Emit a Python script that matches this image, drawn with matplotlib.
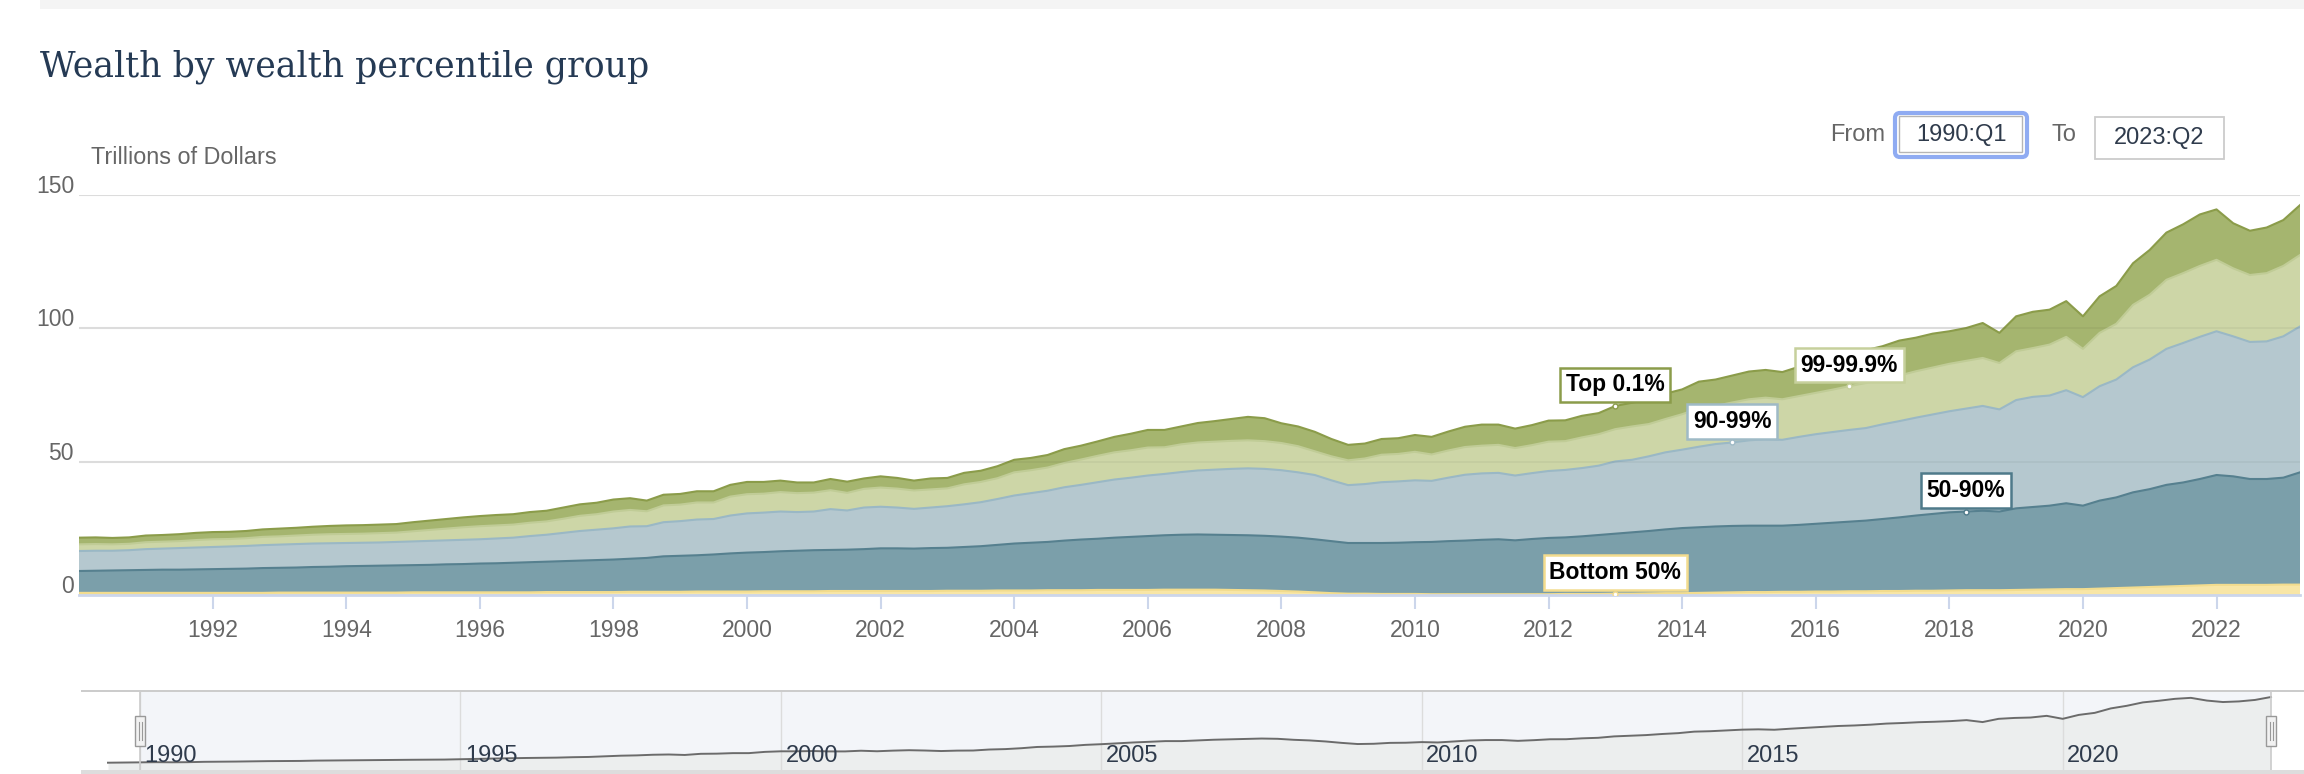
import numpy as np
import pandas as pd
import matplotlib
matplotlib.use('Agg')
import matplotlib.pyplot as plt
from matplotlib.patches import Rectangle, FancyBboxPatch
from matplotlib.lines import Line2D
from matplotlib.transforms import blended_transform_factory

plt.rcParams['font.family'] = ['Liberation Sans', 'DejaVu Sans']

W, H = 2304, 774

# quarterly data, 1989Q3 .. 2023Q2, trillions of dollars
quarters = pd.period_range('1989Q3', '2023Q2', freq='Q')

top01 = [2.4, 2.4,
         2.5, 2.5, 2.4, 2.4,  2.5, 2.5, 2.6, 2.7,  2.7, 2.7, 2.7, 2.8,  2.9, 2.9, 3.0, 3.1,
         3.2, 3.2, 3.2, 3.2,  3.4, 3.5, 3.6, 3.7,  3.8, 3.9, 3.9, 4.0,  4.0, 4.2, 4.3, 4.3,
         4.5, 4.4, 4.0, 4.0,  4.0, 4.2, 4.2, 4.4,  4.6, 4.4, 4.3, 4.0,  3.8, 4.2, 4.2, 3.9,
         4.2, 4.0, 3.7, 4.1,  3.9, 4.3, 4.2, 4.5,  4.7, 4.6, 4.7, 5.2,  5.2, 5.4, 5.8, 6.2,
         6.6, 6.5, 6.7, 7.3,  7.7, 8.2, 8.8, 8.6,  7.4, 7.4, 7.3, 6.5,  5.8, 5.6, 5.9, 5.9,
         6.3, 6.6, 7.1, 7.6,  7.9, 7.6, 7.3, 7.5,  7.9, 7.8, 8.1, 7.9,  8.7, 8.9, 9.3, 9.5,
         9.3, 10.0, 9.9, 10.1,  10.4, 10.4, 10.2, 11.0,  11.5, 12.2, 12.5, 12.3,
         12.5, 13.1, 12.6, 12.7,  12.2, 12.3, 13.1, 11.3,  13.1, 13.6, 13.1, 13.4,
         12.2, 13.7, 14.2, 15.6,  16.8, 17.7, 18.3, 19.3,  18.9, 16.9, 16.6, 17.1,
         17.2, 18.7]

p99_999 = [2.4, 2.4,
           2.5, 2.5, 2.4, 2.4,  2.6, 2.6, 2.6, 2.8,  2.9, 2.8, 2.9, 3.1,  3.1, 3.2, 3.3, 3.4,
           3.4, 3.4, 3.5, 3.5,  3.8, 4.1, 4.4, 4.7,  4.9, 4.9, 4.9, 5.0,  5.0, 5.3, 5.7, 5.8,
           6.3, 6.2, 5.6, 6.3,  6.2, 6.4, 6.2, 7.1,  7.2, 7.1, 7.3, 7.1,  7.1, 7.1, 6.6, 7.0,
           7.2, 7.1, 6.9, 6.8,  6.7, 7.5, 7.6, 7.8,  8.7, 8.6, 8.7, 9.1,  9.5, 9.9, 10.2, 10.3,
           10.5, 10.0, 10.4, 10.5,  10.5, 10.5, 10.5, 10.4,  10.2, 9.8, 8.9, 9.0,
           9.3, 9.6, 10.3, 10.3,  10.7, 9.9, 10.2, 10.4,  10.4, 10.5, 10.3, 10.5,
           11.0, 10.8, 11.5, 11.8,  12.1, 12.5, 12.1, 12.5,  13.3, 14.4, 14.3, 15.0,
           15.4, 15.6, 15.2, 15.3,  15.5, 15.9, 16.4, 16.9,  16.8, 17.1, 17.4, 17.6,
           17.8, 17.9, 18.0, 17.4,  18.3, 18.3, 19.1, 20.0,  18.1, 20.0, 20.9, 23.4,
           24.3, 25.9, 26.2, 26.6,  26.8, 25.5, 25.1, 25.6,  26.4, 26.8]

p90_99 = [7.2, 7.4,
          7.5, 7.5, 7.4, 7.5,  7.8, 7.9, 8.1, 8.2,  8.3, 8.4, 8.5, 8.6,  8.7, 8.8, 8.8, 8.8,
          8.7, 8.7, 8.7, 8.8,  8.9, 9.0, 9.0, 9.1,  9.1, 9.3, 9.4, 9.8,  10.1, 10.6, 11.1, 11.4,
          11.7, 12.1, 11.9, 12.8,  13.0, 13.4, 13.3, 14.2,  14.7, 14.8, 14.9, 14.5,
          14.5, 15.3, 14.7, 15.6,  15.6, 15.3, 14.9, 15.2,  15.6, 16.0, 16.5, 17.2,
          18.0, 18.6, 19.2, 20.0,  20.5, 21.2, 21.8, 22.2,  22.7, 23.0, 23.5, 24.0,
          24.4, 24.8, 25.1, 25.1,  24.9, 24.5, 24.1, 22.8,  21.7, 22.1, 22.8, 23.0,
          23.2, 22.9, 23.8, 24.7,  24.9, 24.9, 24.3, 24.7,  25.1, 25.3, 25.6, 26.0,
          27.1, 27.2, 28.0, 28.9,  29.4, 30.2, 30.9, 31.3,  32.0, 32.4, 32.2, 33.0,
          33.6, 34.0, 34.4, 34.7,  35.5, 36.1, 36.7, 37.3,  37.9, 38.6, 39.3, 38.3,
          40.6, 41.3, 41.3, 42.4,  40.7, 42.9, 44.2, 46.9,  48.6, 51.0, 52.3, 53.3,
          53.9, 52.5, 51.4, 51.6,  53.0, 54.7]

p50_90 = [7.8, 8.0,
          8.2, 8.3, 8.4, 8.5,  8.6, 8.7, 8.7, 8.8,  8.9, 9.0, 9.1, 9.3,  9.3, 9.4, 9.6, 9.7,
          9.9, 10.0, 10.1, 10.2,  10.2, 10.3, 10.5, 10.6,  10.8, 10.9, 11.1, 11.3,
          11.4, 11.6, 11.8, 12.0,  12.2, 12.4, 12.7, 13.3,  13.5, 13.6, 13.9, 14.3,
          14.6, 14.7, 15.0, 15.2,  15.4, 15.4, 15.5, 15.7,  16.0, 16.0, 15.9, 16.1,
          16.1, 16.4, 16.7, 17.1,  17.6, 17.9, 18.1, 18.6,  19.0, 19.2, 19.6, 19.9,
          20.2, 20.4, 20.6, 20.7,  20.6, 20.6, 20.6, 20.5,  20.4, 20.2, 19.9, 19.5,
          19.0, 19.0, 19.1, 19.2,  19.4, 19.6, 19.9, 20.1,  20.4, 20.6, 20.2, 20.7,
          21.1, 21.2, 21.6, 22.1,  22.5, 23.0, 23.4, 23.9,  24.4, 24.6, 24.8, 24.9,
          24.9, 24.9, 24.8, 25.1,  25.4, 25.8, 26.1, 26.5,  27.0, 27.6, 28.2, 28.8,
          29.3, 29.5, 29.8, 29.5,  30.6, 31.0, 31.4, 32.2,  31.3, 33.0, 34.0, 35.7,
          36.7, 38.1, 38.8, 39.9,  41.2, 40.7, 39.7, 39.7,  40.1, 42.1]

bottom50 = [0.8, 0.8,
            0.8, 0.8, 0.8, 0.8,  0.8, 0.8, 0.8, 0.8,  0.8, 0.8, 0.8, 0.8,  0.9, 0.9, 0.9, 0.9,
            0.9, 0.9, 0.9, 0.9,  1.0, 1.0, 1.0, 1.0,  1.0, 1.0, 1.0, 1.0,  1.1, 1.1, 1.1, 1.1,
            1.1, 1.2, 1.2, 1.2,  1.2, 1.3, 1.3, 1.3,  1.3, 1.4, 1.4, 1.4,  1.4, 1.5, 1.5, 1.5,
            1.5, 1.5, 1.5, 1.5,  1.6, 1.6, 1.6, 1.7,  1.7, 1.7, 1.8, 1.8,  1.8, 1.9, 1.9, 1.9,
            1.9, 2.0, 2.0, 2.0,  2.0, 1.9, 1.8, 1.7,  1.5, 1.3, 1.0, 0.7,  0.5, 0.5, 0.4, 0.4,
            0.4, 0.3, 0.3, 0.3,  0.3, 0.3, 0.3, 0.3,  0.3, 0.4, 0.4, 0.4,  0.5, 0.5, 0.6, 0.7,
            0.7, 0.8, 0.9, 1.0,  1.1, 1.1, 1.2, 1.2,  1.3, 1.3, 1.4, 1.4,  1.5, 1.5, 1.6, 1.6,
            1.7, 1.8, 1.8, 1.8,  1.9, 2.0, 2.1, 2.2,  2.2, 2.4, 2.6, 2.8,  3.0, 3.2, 3.4, 3.6,
            3.8, 3.8, 3.8, 3.8,  3.9, 3.9]

groups = ['Bottom 50%', '50-90%', '90-99%', '99-99.9%', 'Top 0.1%']
fills = ['#f8e6a6', '#7b9faa', '#b5c8cf', '#cdd6a7', '#a5b56f']
edges = ['#f2dc8e', '#56808f', '#9ab8c5', '#c0cc96', '#8b9c4a']
label_at = {'Top 0.1%': '2013Q1', '99-99.9%': '2016Q3', '90-99%': '2014Q4',
            '50-90%': '2018Q2', 'Bottom 50%': '2013Q1'}
box_edge = {'Top 0.1%': '#8b9c4a', '99-99.9%': '#c6d09c', '90-99%': '#9fbac6',
            '50-90%': '#4f7a8a', 'Bottom 50%': '#f3dc8e'}

x = np.array(quarters.year + (quarters.quarter - 1) / 4.0)
values = np.vstack([bottom50, p50_90, p90_99, p99_999, top01])
cum = np.cumsum(values, axis=0)
total = cum[-1]
qnames = [str(q) for q in quarters]

fig = plt.figure(figsize=(W / 100, H / 100), dpi=100)


def rect(px, py, w, h):
    return [px / W, 1 - (py + h) / H, w / W, h / H]


# header
fig.add_artist(Rectangle((40 / W, 1 - 9 / H), 2264 / W, 9 / H, transform=fig.transFigure,
                         color='#f4f4f4', lw=0))
fig.text(40 / W, 1 - 76 / H, 'Wealth by wealth percentile group', family='DejaVu Serif',
         fontsize=25, color='#253a54', va='baseline')
fig.text(91 / W, 1 - 157 / H, 'Trillions of Dollars', fontsize=16.8, color='#666666', va='center')

# from / to inputs
def inbox(x0, y0, x1, y1, **kw):
    fig.add_artist(FancyBboxPatch((x0 / W, 1 - y1 / H), (x1 - x0) / W, (y1 - y0) / H,
                                  boxstyle=f'round,pad=0,rounding_size={5 / W}',
                                  mutation_aspect=W / H, transform=fig.transFigure, **kw))

fig.text(1830 / W, 1 - 135 / H, 'From', fontsize=17, color='#666666', va='center')
inbox(1895, 113, 2027, 157, fc='white', ec='#8fabf2', lw=3)
fig.add_artist(Rectangle((1899 / W, 1 - 152 / H), 123 / W, 36 / H, transform=fig.transFigure,
                         fc='white', ec='#b5b5b5', lw=1))
fig.text(1961 / W, 1 - 135 / H, '1990:Q1', fontsize=17, color='#2f3b4c', ha='center', va='center')
fig.text(2052 / W, 1 - 135 / H, 'To', fontsize=17, color='#666666', va='center')
fig.add_artist(Rectangle((2095 / W, 1 - 159 / H), 129 / W, 42 / H, transform=fig.transFigure,
                         fc='white', ec='#cccccc', lw=1.3))
fig.text(2159 / W, 1 - 138 / H, '2023:Q2', fontsize=17, color='#2f3b4c', ha='center', va='center')

# main chart
ax = fig.add_axes(rect(79, 195, 2221, 400))
ax.stackplot(x, values, colors=fills, lw=0, zorder=2)
for row, c in zip(cum, edges):
    ax.plot(x, row, color=c, lw=1.5, zorder=3)
ax.set_xlim(1990, 2023.25)
ax.set_ylim(0, 150)
for v in (50, 100, 150):
    ax.axhline(v, color='#e6e6e6', lw=1.5, zorder=1)
    ax.axhline(v, color='black', alpha=0.04, lw=1.5, zorder=4)
ax.axhline(0, color='#ccd6eb', lw=2, zorder=5, clip_on=False)
for s in ax.spines.values():
    s.set_visible(False)
ax.set_xticks(range(1992, 2023, 2))
ax.tick_params(axis='x', length=10, width=1.5, color='#ccd6eb', labelsize=16.5,
               labelcolor='#666666', pad=7)
ax.set_yticks([])
ax.patch.set_alpha(0)

tr = blended_transform_factory(fig.transFigure, ax.transData)
for v in (0, 50, 100, 150):
    ax.text(74 / W, v + 0.8, str(v), transform=tr, ha='right', va='baseline',
            fontsize=16.5, color='#666666')

for k, name in enumerate(groups):
    i = qnames.index(label_at[name])
    xv, yv = x[i], cum[k][i]
    ax.annotate(name, (xv, yv), xytext=(0, 21), textcoords='offset pixels',
                ha='center', va='center', fontsize=16.5, fontweight='bold', color='black',
                bbox=dict(boxstyle='square,pad=0.25', fc='white', ec=box_edge[name], lw=1.8),
                zorder=10, annotation_clip=False)
    ax.plot(xv, yv, 'o', ms=3.5, mfc='white', mec=box_edge[name], mew=1, zorder=11)

# navigator
nav = fig.add_axes(rect(81, 691, 2223, 83))
nav.set_xlim(1989.079, 2023.765)
nav.set_ylim(-1, 157.7)
nav.axis('off')
nav.axvspan(1990, 2023.25, color='#f3f5f9', lw=0, zorder=0)
nav.fill_between(x, total, -1, color='#eceeee', lw=0, zorder=1)
nav.plot(x, total, color='#6b6b6b', lw=1.4, zorder=3)
for yr in range(1990, 2021, 5):
    nav.axvline(yr, color='#dcdcdc', lw=1, zorder=2)
    nav.text(yr + 0.07, 21.9, str(yr), fontsize=17, color='#2f3b4c', va='baseline', zorder=4)
for xb in (1990, 2023.25):
    nav.axvline(xb, color='#cccccc', lw=1.2, zorder=4)

fig.add_artist(Rectangle((81 / W, 1 - 692 / H), 2223 / W, 2 / H, transform=fig.transFigure,
                         color='#cccccc', lw=0))
fig.add_artist(Rectangle((81 / W, 0), 2223 / W, 4 / H, transform=fig.transFigure,
                         color='#dddddd', lw=0))
for hx in (140, 2271):
    fig.add_artist(Rectangle(((hx - 5) / W, 1 - 746 / H), 10 / W, 30 / H,
                             transform=fig.transFigure, fc='#f2f2f2', ec='#999999', lw=1))
    for dx in (-1.5, 1.5):
        fig.add_artist(Line2D([(hx + dx) / W] * 2, [1 - 722 / H, 1 - 740 / H],
                              transform=fig.transFigure, color='#999999', lw=0.8))

fig.savefig('out.png', dpi=100)
